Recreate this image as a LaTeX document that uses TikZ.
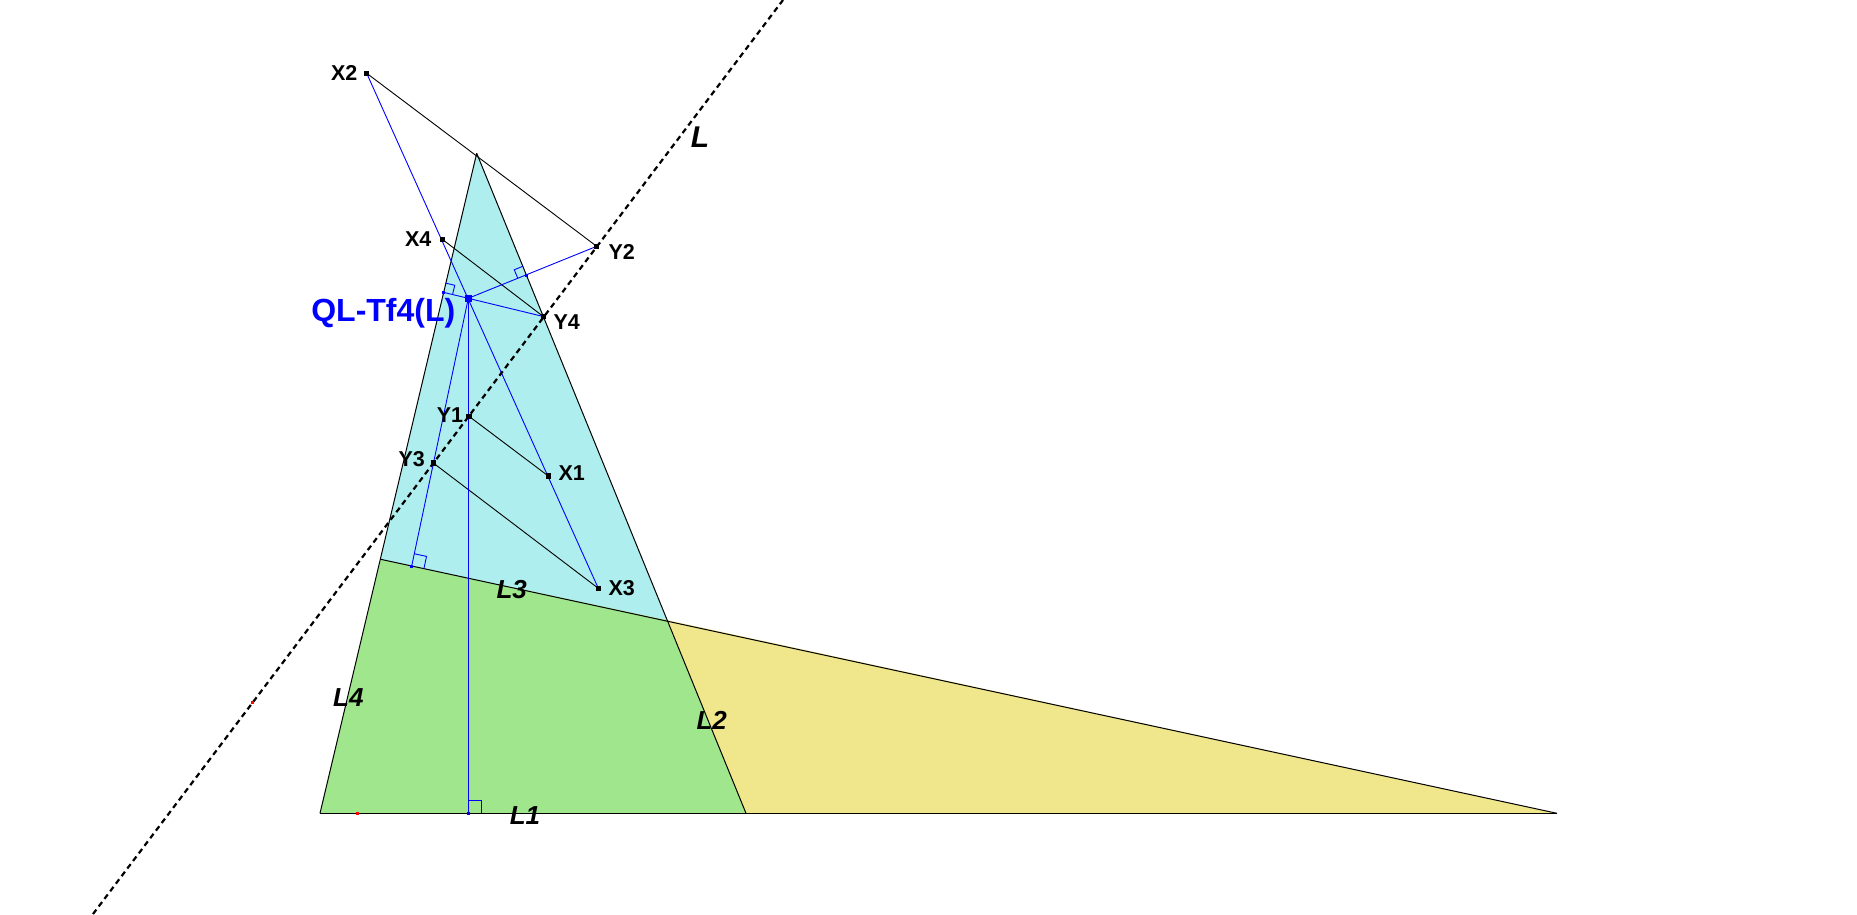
\documentclass[tikz,border=0pt]{standalone}
\usepackage{fontspec}
\setmainfont{Liberation Sans}
\usetikzlibrary{calc}
\definecolor{cyanfill}{HTML}{AFEEEE}
\definecolor{greenfill}{HTML}{A0E68C}
\definecolor{yellowfill}{HTML}{F0E68C}
\definecolor{qlblue}{HTML}{0000FF}
\newcommand{\ramark}[4]{%
  \draw[blueline] ($(#1)!#4!(#2)$) -- ($(#1)!#4!(#2)+(#1)!#4!(#3)-(#1)$) -- ($(#1)!#4!(#3)$);}
\begin{document}
\begin{tikzpicture}[x=1pt,y=-1pt,
  ptlabel/.style={font=\fontsize{21.5}{21.5}\selectfont\bfseries, inner sep=0pt},
  linelabel/.style={font=\fontsize{26}{26}\selectfont\bfseries\itshape, inner sep=0pt},
  thinline/.style={line width=0.9pt, black},
  blueline/.style={line width=0.9pt, qlblue},
  sideline/.style={line width=1pt, black},
  dashline/.style={line width=2.2pt, black, dash pattern=on 5.5pt off 4pt},
  blkpt/.style={rectangle, fill=black, inner sep=0pt, minimum size=5.5pt},
  bluept/.style={rectangle, fill=qlblue, inner sep=0pt, minimum size=3pt},
  bigbluept/.style={rectangle, fill=qlblue, inner sep=0pt, minimum size=7pt},
  redpt/.style={rectangle, fill=red, inner sep=0pt, minimum size=3pt}]
\useasboundingbox (0,0) rectangle (1857,914);
\fill[white] (0,0) rectangle (1857,914);
% vertices of the quadrilateral
\coordinate (A) at (320,813.3);
\coordinate (B) at (746,813.3);
\coordinate (C) at (1557,813.3);
\coordinate (D) at (666.7,620);
\coordinate (E) at (380.7,559.3);
\coordinate (T) at (476.7,153.3);
% special points
\coordinate (P) at (468.3,298.3);
\coordinate (X1) at (548.3,476);
\coordinate (X2) at (366.7,73.3);
\coordinate (X3) at (598.3,588.3);
\coordinate (X4) at (442.3,239.3);
\coordinate (Y1) at (469,416.3);
\coordinate (Y2) at (596.7,246.3);
\coordinate (Y3) at (433.3,463);
\coordinate (Y4) at (543.3,316.5);
\coordinate (F1) at (468.3,813.3);
\coordinate (F2) at (526.7,275);
\coordinate (F3) at (411.7,566);
\coordinate (F4) at (443.3,292.3);
\coordinate (Lbot) at (93,914);
\coordinate (Ltop) at (783,0);
% regions
\fill[cyanfill] (T) -- (E) -- (D) -- cycle;
\fill[greenfill] (A) -- (E) -- (D) -- (B) -- cycle;
\fill[yellowfill] (B) -- (D) -- (C) -- cycle;
% sides
\draw[sideline] (A) -- (C);
\draw[sideline] (T) -- (B);
\draw[sideline] (E) -- (C);
\draw[sideline] (T) -- (A);
% black segments
\draw[thinline] (X2) -- (Y2);
\draw[thinline] (X4) -- (Y4);
\draw[thinline] (Y1) -- (X1);
\draw[thinline] (Y3) -- (X3);
% blue segments
\draw[blueline] (X2) -- (X3);
\draw[blueline] (P) -- (Y2);
\draw[blueline] (P) -- (Y4);
\draw[blueline] (P) -- (F4);
\draw[blueline] (P) -- (F1);
\draw[blueline] (P) -- (F3);
% right angle marks
\ramark{F1}{P}{C}{12.7pt}
\ramark{F3}{P}{D}{12.5pt}
\ramark{F4}{P}{T}{9.5pt}
\ramark{F2}{P}{T}{9.5pt}
% line L
\draw[dashline] (Lbot) -- (Ltop);
% points
\node[bluept] (f1) at (F1) {};
\node[bluept] (f2) at (F2) {};
\node[bluept] (f3) at (F3) {};
\node[bluept] (f4) at (F4) {};
\node[redpt] (r1) at (357.3,813.3) {};
\node[redpt] (r2) at (252.3,702.3) {};
\foreach \p in {X1,X2,X3,X4,Y1,Y2,Y3,Y4} \node[blkpt] (n\p) at (\p) {};
\node[bigbluept] (nP) at (P) {};
% labels
\node[ptlabel] (lX1) at (571.7,473) {X1};
\node[ptlabel] (lX2) at (344.3,73.3) {X2};
\node[ptlabel] (lX3) at (621.7,588.3) {X3};
\node[ptlabel] (lX4) at (418.3,239.3) {X4};
\node[ptlabel] (lY1) at (450,415) {Y1};
\node[ptlabel] (lY2) at (621.7,251.7) {Y2};
\node[ptlabel] (lY3) at (411.7,459.3) {Y3};
\node[ptlabel] (lY4) at (566.7,321.7) {Y4};
\node[font=\fontsize{32}{32}\selectfont\bfseries, text=qlblue, inner sep=0pt] (lP) at (383.3,313.3) {QL-Tf4(L)};
\node[linelabel] (lL1) at (525,816) {L1};
\node[linelabel] (lL2) at (711.7,720) {L2};
\node[linelabel] (lL3) at (511.7,590) {L3};
\node[linelabel] (lL4) at (348.3,697.3) {L4};
\node[font=\fontsize{30}{30}\selectfont\bfseries\itshape, inner sep=0pt] (lL) at (700,137) {L};
\end{tikzpicture}
\end{document}
